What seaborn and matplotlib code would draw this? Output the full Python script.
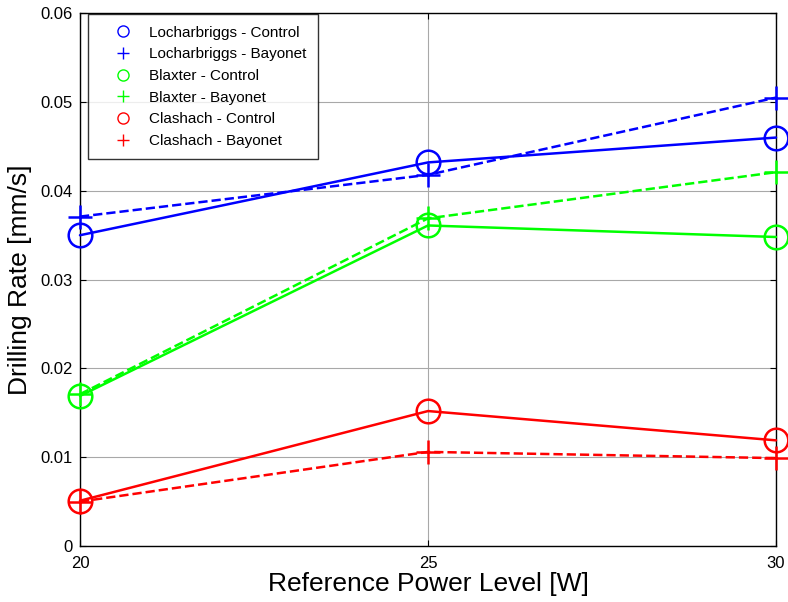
import matplotlib
matplotlib.use("Agg")
import matplotlib.pyplot as plt
import seaborn as sns
import pandas as pd
from matplotlib.lines import Line2D

sns.set_style("white")
plt.rcParams['font.family'] = ['Liberation Sans', 'DejaVu Sans']
plt.rcParams['text.color'] = 'black'
plt.rcParams['axes.labelcolor'] = 'black'

power = [20, 25, 30]
loch_control = [0.0350, 0.0432, 0.0460]
loch_bayonet = [0.0371, 0.0418, 0.0505]
blax_control = [0.0169, 0.0361, 0.0348]
blax_bayonet = [0.0171, 0.0369, 0.0421]
clas_control = [0.0051, 0.0152, 0.0119]
clas_bayonet = [0.0050, 0.0106, 0.0099]

series = [
    ("Locharbriggs - Control", loch_control, "#0000ff", "-", "o"),
    ("Locharbriggs - Bayonet", loch_bayonet, "#0000ff", "--", "+"),
    ("Blaxter - Control", blax_control, "#00ff00", "-", "o"),
    ("Blaxter - Bayonet", blax_bayonet, "#00ff00", "--", "+"),
    ("Clashach - Control", clas_control, "#ff0000", "-", "o"),
    ("Clashach - Bayonet", clas_bayonet, "#ff0000", "--", "+"),
]

fig = plt.figure(figsize=(7.88, 6.02), dpi=100)
ax = fig.add_axes([0.1015, 0.093, 0.8833, 0.885])

for name, vals, color, ls, mk in series:
    df = pd.DataFrame({"power": power, "rate": vals})
    sns.lineplot(data=df, x="power", y="rate", ax=ax, color=color,
                 linestyle=ls, linewidth=1.8, marker=mk, markersize=17,
                 markerfacecolor="none", markeredgecolor=color,
                 markeredgewidth=1.8, legend=False, clip_on=False, zorder=3)

ax.set_xlim(20, 30)
ax.set_ylim(0, 0.06)
ax.set_xticks(power)
ax.set_xticklabels([str(p) for p in power])
ax.set_yticks([0, 0.01, 0.02, 0.03, 0.04, 0.05, 0.06])
ax.set_yticklabels(["0", "0.01", "0.02", "0.03", "0.04", "0.05", "0.06"])
ax.grid(True, color="#a8a8a8", linewidth=0.8)
ax.set_axisbelow(True)
for sp in ax.spines.values():
    sp.set_color("black")
    sp.set_linewidth(1.0)
ax.tick_params(direction="in", length=4, labelsize=12, colors="black",
               top=True, right=True, left=True, bottom=True)
ax.tick_params(axis="x", pad=7)
ax.tick_params(axis="y", pad=5)
ax.set_xlabel("Reference Power Level [W]", fontsize=19, labelpad=1)
ax.set_ylabel("Drilling Rate [mm/s]", fontsize=19, labelpad=6)

handles = [Line2D([], [], linestyle="none", marker=mk, color=c,
                  markerfacecolor="none", markersize=8, markeredgewidth=1.0)
           for _, _, c, _, mk in series]
labels = [s[0] for s in series]
leg = ax.legend(handles, labels, loc="upper left", bbox_to_anchor=(0.012, 0.998),
                fontsize=11, frameon=True, fancybox=False, edgecolor="black",
                handlelength=3.0, handletextpad=0.25, labelspacing=0.5,
                borderpad=0.75, borderaxespad=0)
leg.get_frame().set_linewidth(1.0)
leg.set_zorder(5)

fig.savefig("out.png", dpi=100)
